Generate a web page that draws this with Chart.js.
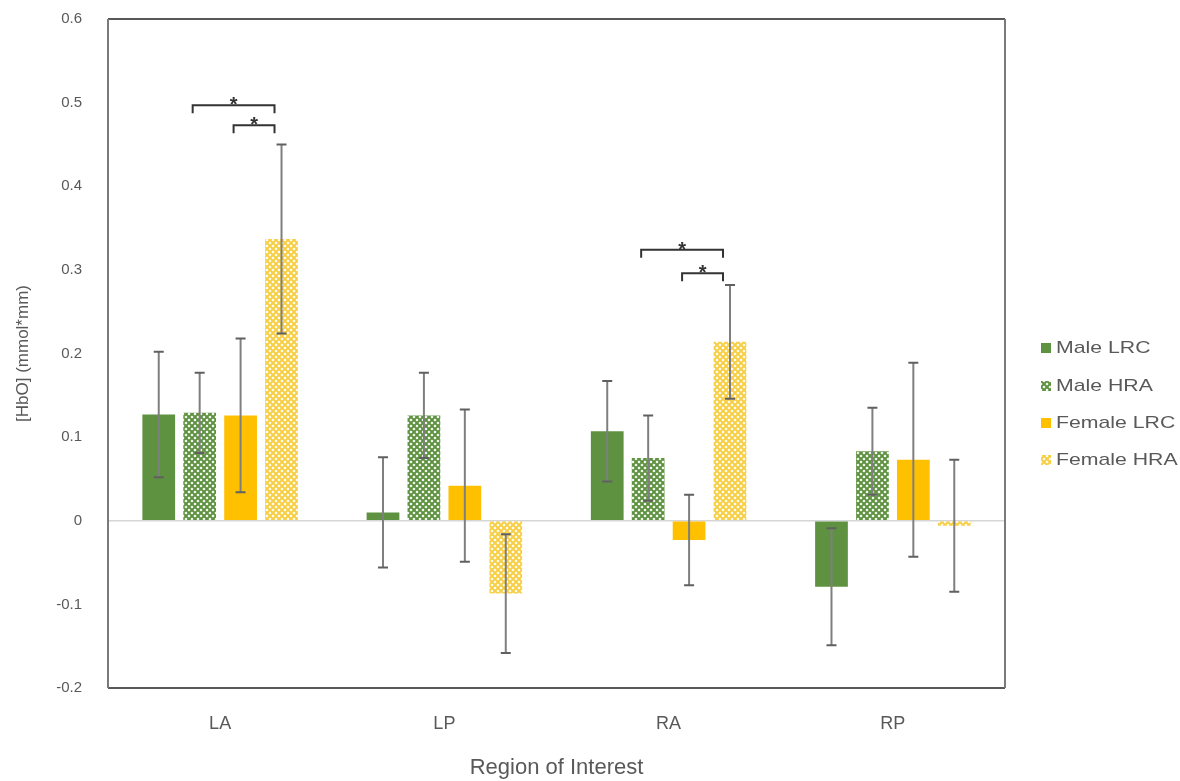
<!DOCTYPE html>
<html>
<head>
<meta charset="utf-8">
<script src="https://cdn.jsdelivr.net/npm/chart.js@4.4.1/dist/chart.umd.min.js"></script>
<style>
  html, body { margin: 0; padding: 0; background: #fff; }
  #wrap { position: relative; width: 1180px; height: 781px; }
</style>
</head>
<body>
<div id="wrap"><canvas id="hboChart" width="1180" height="781"></canvas></div>
<script>
const regions = ["LA", "LP", "RA", "RP"];
const seriesNames = ["Male LRC", "Male HRA", "Female LRC", "Female HRA"];

const maleLRC = [0.127, 0.010, 0.107, -0.079];
const maleHRA = [0.129, 0.126, 0.075, 0.083];
const femaleLRC = [0.126, 0.042, -0.023, 0.073];
const femaleHRA = [0.337, -0.087, 0.214, -0.006];

const maleLRCErr = [0.075, 0.066, 0.060, 0.070];
const maleHRAErr = [0.048, 0.051, 0.051, 0.052];
const femaleLRCErr = [0.092, 0.091, 0.054, 0.116];
const femaleHRAErr = [0.113, 0.071, 0.068, 0.079];

const yTicks = [0.6, 0.5, 0.4, 0.3, 0.2, 0.1, 0, -0.1, -0.2];

// significance brackets: region index, from series, to series, height
const brackets = [
    { region: 0, from: 1, to: 3, y: 0.497 },
    { region: 0, from: 2, to: 3, y: 0.473 },
    { region: 2, from: 1, to: 3, y: 0.324 },
    { region: 2, from: 2, to: 3, y: 0.296 },
];

const font = "'Liberation Sans', Arial, sans-serif";
const textGrey = "#595959";

function lattice(color) {
    const c = document.createElement("canvas");
    c.width = 6; c.height = 6;
    const g = c.getContext("2d");
    g.fillStyle = "#fff";
    g.fillRect(0, 0, 6, 6);
    g.strokeStyle = color;
    g.lineWidth = 2;
    g.beginPath();
    g.moveTo(-1, -1); g.lineTo(7, 7);
    g.moveTo(7, -1); g.lineTo(-1, 7);
    g.stroke();
    return g.createPattern(c, "repeat");
}

const green = "#5f9240";
const yellow = "#ffc000";
const fills = [green, lattice("#5f9240"), yellow, lattice("#f7cf45")];
const values = [maleLRC, maleHRA, femaleLRC, femaleHRA];
const errors = [maleLRCErr, maleHRAErr, femaleLRCErr, femaleHRAErr];

const errorBars = {
    id: "errorBars",
    afterDatasetsDraw(chart) {
        const ctx = chart.ctx;
        const y = chart.scales.y;
        ctx.save();
        chart.data.datasets.forEach((ds, i) => {
            chart.getDatasetMeta(i).data.forEach((bar, j) => {
                const v = ds.data[j], e = errors[i][j];
                const top = y.getPixelForValue(v + e);
                const bot = y.getPixelForValue(v - e);
                ctx.strokeStyle = "#7f7f7f";
                ctx.lineWidth = 2;
                ctx.beginPath();
                ctx.moveTo(bar.x, top); ctx.lineTo(bar.x, bot);
                ctx.stroke();
                ctx.strokeStyle = "#606060";
                ctx.beginPath();
                ctx.moveTo(bar.x - 5, top); ctx.lineTo(bar.x + 5, top);
                ctx.moveTo(bar.x - 5, bot); ctx.lineTo(bar.x + 5, bot);
                ctx.stroke();
            });
        });
        ctx.restore();
    }
};

const sigBrackets = {
    id: "sigBrackets",
    afterDatasetsDraw(chart) {
        const ctx = chart.ctx;
        const y = chart.scales.y;
        ctx.save();
        ctx.strokeStyle = "#333";
        ctx.fillStyle = "#333";
        ctx.lineWidth = 2;
        ctx.font = "bold 20px " + font;
        ctx.textAlign = "center";
        ctx.textBaseline = "alphabetic";
        brackets.forEach(b => {
            // brackets sit a little left of the bar centres in the original
            const x1 = chart.getDatasetMeta(b.from).data[b.region].x - 7;
            const x2 = chart.getDatasetMeta(b.to).data[b.region].x - 7;
            const py = y.getPixelForValue(b.y);
            ctx.beginPath();
            ctx.moveTo(x1, py + 8); ctx.lineTo(x1, py);
            ctx.lineTo(x2, py); ctx.lineTo(x2, py + 8);
            ctx.stroke();
            ctx.fillText("*", (x1 + x2) / 2, py + 6);
        });
        ctx.restore();
    }
};

const frame = {
    id: "frame",
    afterDraw(chart) {
        const { left, right, top, bottom } = chart.chartArea;
        const ctx = chart.ctx;
        ctx.save();
        ctx.lineWidth = 1.5;
        ctx.strokeStyle = "#222";
        ctx.beginPath();
        ctx.moveTo(left, top); ctx.lineTo(right, top);
        ctx.moveTo(left, bottom); ctx.lineTo(right, bottom);
        ctx.stroke();
        ctx.strokeStyle = "#7a7a7a";
        ctx.lineWidth = 2;
        ctx.beginPath();
        ctx.moveTo(left, top); ctx.lineTo(left, bottom);
        ctx.moveTo(right, top); ctx.lineTo(right, bottom);
        ctx.stroke();

        // legend
        ctx.font = "17px " + font;
        ctx.textBaseline = "middle";
        ctx.textAlign = "left";
        const lx = 1041, ly = [348, 386, 423, 460];
        chart.data.datasets.forEach((ds, i) => {
            ctx.fillStyle = ds.backgroundColor;
            ctx.fillRect(lx, ly[i] - 5, 10, 10);
            ctx.fillStyle = textGrey;
            ctx.save();
            ctx.translate(lx + 15, ly[i]);
            ctx.scale(1.25, 1);
            ctx.fillText(ds.label, 0, 0);
            ctx.restore();
        });
        ctx.restore();
    }
};

new Chart(document.getElementById("hboChart"), {
    type: "bar",
    data: {
        labels: regions,
        datasets: seriesNames.map((name, i) => ({
            label: name,
            data: values[i],
            backgroundColor: fills[i],
            borderWidth: 0,
            categoryPercentage: 0.73,
            barPercentage: 0.8,
        })),
    },
    options: {
        responsive: false,
        animation: false,
        devicePixelRatio: 1,
        layout: { padding: { left: 0, right: 175, top: 19, bottom: 0 } },
        plugins: {
            legend: { display: false },
            tooltip: { enabled: false },
        },
        scales: {
            x: {
                grid: { display: false, drawTicks: false },
                border: { display: false },
                ticks: { color: textGrey, font: { family: font, size: 18 }, padding: 25 },
                title: {
                    display: true, text: "Region of Interest", color: textGrey,
                    font: { family: font, size: 22 }, padding: { top: 10, bottom: 0 },
                },
                afterFit(scale) { scale.height = 93; },
            },
            y: {
                min: -0.2,
                max: 0.6,
                afterBuildTicks(scale) { scale.ticks = yTicks.map(v => ({ value: v })); },
                grid: {
                    drawTicks: false,
                    color: c => (c.tick && c.tick.value === 0 ? "#d6d6d6" : "rgba(0,0,0,0)"),
                    lineWidth: 1.5,
                },
                border: { display: false },
                ticks: {
                    color: textGrey, font: { family: font, size: 15 }, padding: 26,
                    callback: v => String(Math.round(v * 10) / 10),
                },
                title: {
                    display: true, text: "[HbO] (mmol*mm)", color: textGrey,
                    font: { family: font, size: 17 }, padding: { top: 13, bottom: 0 },
                },
                afterFit(scale) {
                    scale.width = 108;
                    scale.paddingTop = 0;
                    scale.paddingBottom = 0;
                },
            },
        },
    },
    plugins: [errorBars, sigBrackets, frame],
});
</script>
</body>
</html>
